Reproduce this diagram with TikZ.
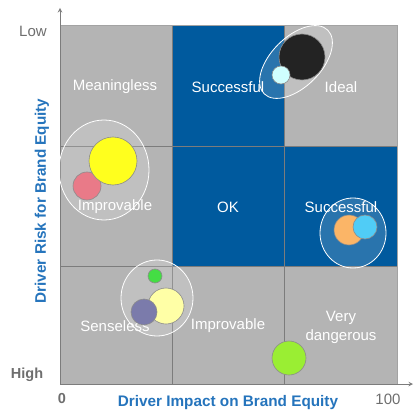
\documentclass[tikz,border=0pt]{standalone}
\usepackage{fontspec}
\setmainfont{Liberation Sans}
\definecolor{cellgrey}{HTML}{B4B4B4}
\definecolor{cellblue}{HTML}{005A9E}
\definecolor{gridgrey}{HTML}{7C7C7C}
\definecolor{labelgrey}{HTML}{6E6E6E}
\definecolor{titleblue}{HTML}{2574BC}
\definecolor{ballyellow}{HTML}{FFFF1E}
\definecolor{ballpink}{HTML}{E97A88}
\definecolor{balldark}{HTML}{232323}
\definecolor{ballice}{HTML}{CFFFFF}
\definecolor{ballorange}{HTML}{FBB567}
\definecolor{ballsky}{HTML}{50CCF6}
\definecolor{ballgreen}{HTML}{44DD44}
\definecolor{ballcream}{HTML}{FFFFA6}
\definecolor{ballviolet}{HTML}{7B7BAB}
\definecolor{balllime}{HTML}{9AEE33}

\begin{document}
\begin{tikzpicture}[x=1pt,y=-1pt,>=stealth,font=\fontsize{15}{19}\selectfont,
    cell/.style={text=white,align=center},
    tick/.style={text=labelgrey},
    axtitle/.style={text=titleblue,font=\fontsize{15.3}{17}\selectfont\bfseries},
    bubble/.style={draw=black!45,line width=0.6pt},
    halo/.style={draw=white,line width=0.8pt,fill=white,fill opacity=0.16}]
    \useasboundingbox (0,0) rectangle (413,414);
    \coordinate (origin) at (60,384);
    \coordinate (xMax) at (413,384);
    \coordinate (yMax) at (60,8);
    \fill[cellgrey] (60,26) rectangle (397,384);
    \fill[cellblue] (172,26) rectangle (284,266);
    \fill[cellblue] (284,146) rectangle (397,266);
    \draw[gridgrey,line width=1pt] (172,26)--(172,384) (284,26)--(284,384) (60,146)--(397,146) (60,266)--(397,266);
    \draw[gridgrey!70,line width=1pt] (60,26)--(397,26)--(397,384);
    \draw[->,gridgrey,line width=1pt] (origin)--(yMax);
    \draw[->,gridgrey,line width=1pt] (origin)--(xMax);
    \node[tick] (low) at (33,31) {Low};
    \node[tick,font=\fontsize{14.5}{16}\selectfont\bfseries] (high) at (27,375) {High};
    \node[tick,font=\fontsize{14.5}{16}\selectfont\bfseries] (zero) at (62,399) {0};
    \node[tick] (hundred) at (388,399) {100};
    \node[axtitle] (xtitle) at (228,403) {Driver Impact on Brand Equity};
    \node[axtitle,rotate=90] (ytitle) at (42,201) {Driver Risk for Brand Equity};
    \node[cell] (c11) at (115,87) {Meaningless};
    \node[cell] (c12) at (228,87) {Successful};
    \node[cell] (c13) at (341,87) {Ideal};
    \node[cell] (c21) at (115,207) {Improvable};
    \node[cell] (c22) at (228,207) {OK};
    \node[cell] (c23) at (341,207) {Successful};
    \node[cell] (c31) at (115,326) {Senseless};
    \node[cell] (c32) at (228,326) {Improvable};
    \node[cell] (c33) at (341,327) {Very\\dangerous};
    \draw[halo,rotate around={45:(296,62)}] (296,62) ellipse [x radius=45,y radius=25];
    \draw[halo] (104,170) ellipse [x radius=45,y radius=50];
    \draw[halo] (353,233) ellipse [x radius=33,y radius=35];
    \draw[halo] (157,298) ellipse [x radius=36,y radius=38];
    \draw[bubble,fill=balldark] (302,57) circle (23);
    \draw[bubble,fill=ballice] (281,75) circle (9);
    \draw[bubble,fill=ballpink] (87,186) circle (14);
    \draw[bubble,fill=ballyellow] (113,161) circle (24);
    \draw[bubble,fill=ballorange] (349,230) circle (15);
    \draw[bubble,fill=ballsky] (365,227) circle (12);
    \draw[bubble,fill=ballgreen] (155,276) circle (7);
    \draw[bubble,fill=ballcream] (166,306) circle (18);
    \draw[bubble,fill=ballviolet] (144,312) circle (13);
    \draw[bubble,fill=balllime] (289,358) circle (17);
\end{tikzpicture}
\end{document}
